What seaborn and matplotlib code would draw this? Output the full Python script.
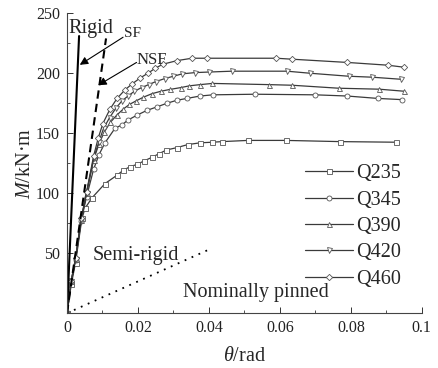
import matplotlib
matplotlib.use("Agg")
import matplotlib.pyplot as plt
import seaborn as sns
import pandas as pd
from matplotlib.ticker import MultipleLocator, FixedLocator

# ---------------- data ----------------
q235_theta = [0, 0.0012, 0.0024, 0.0042, 0.0051, 0.0070, 0.0107, 0.0141, 0.0158, 0.0177, 0.0197, 0.0218,
              0.0240, 0.0260, 0.0280, 0.0310, 0.0340, 0.0375, 0.0410, 0.0437, 0.0510, 0.0617, 0.0770, 0.0927]
q235_m = [0, 24, 42, 79, 87.5, 96, 108, 115, 119, 122, 124, 127,
          130, 133, 136, 138, 140.5, 142, 142.5, 143, 144, 144, 143, 142.5]

q345_theta = [0, 0.0012, 0.0024, 0.0040, 0.0055, 0.0075, 0.0090, 0.0107, 0.0135, 0.0155, 0.0172, 0.0197,
              0.0225, 0.0254, 0.0282, 0.0310, 0.0338, 0.0375, 0.0411, 0.0530, 0.0700, 0.0790, 0.0876, 0.0944]
q345_m = [0, 26, 44, 77, 97, 120, 132, 142, 154, 157, 161, 165,
          169, 172, 175, 177.5, 179, 181, 182, 182.5, 182, 181, 179, 178]

q390_theta = [0, 0.0012, 0.0024, 0.0040, 0.0055, 0.0075, 0.0090, 0.0105, 0.0122, 0.0140, 0.0158, 0.0176,
              0.0195, 0.0215, 0.0240, 0.0265, 0.0290, 0.0320, 0.0345, 0.0375, 0.0410, 0.0570, 0.0634,
              0.0766, 0.0880, 0.0950]
q390_m = [0, 27, 45, 78, 100, 128, 141, 151, 159, 165, 170, 174,
          177, 180, 183, 185, 186.5, 188, 189.5, 190.5, 191.5, 190.5, 190, 187.5, 186.7, 185]

q420_theta = [0, 0.0012, 0.0024, 0.0040, 0.0055, 0.0075, 0.0090, 0.0103, 0.0120, 0.0138, 0.0155, 0.0172,
              0.0190, 0.0210, 0.0230, 0.0250, 0.0275, 0.0300, 0.0325, 0.0360, 0.0400, 0.0465, 0.0620,
              0.0685, 0.0794, 0.0860, 0.0940]
q420_m = [0, 27, 45, 78, 100, 129, 143, 154, 163, 171, 177, 181,
          185, 188, 190.5, 193, 195.5, 197.5, 199.5, 200.5, 201, 201.7, 201.7, 200, 197.5, 196.7, 195]

q460_theta = [0, 0.0012, 0.0024, 0.0040, 0.0055, 0.0075, 0.0088, 0.0101, 0.0121, 0.0141, 0.0163, 0.0183,
              0.0206, 0.0228, 0.0248, 0.0270, 0.0310, 0.0352, 0.0394, 0.0590, 0.0634, 0.0790, 0.0904, 0.0950]
q460_m = [0, 27, 46, 79, 101, 131, 146, 158, 170, 179, 186, 191,
          196, 200, 204, 207.5, 210.5, 212.5, 212.5, 212.5, 211.7, 209, 206.7, 205]

series_names = ["Q235", "Q345", "Q390", "Q420", "Q460"]
series_markers = ["s", "o", "^", "v", "D"]

rigid_theta = [0, 0.0034]
rigid_m = [0, 231]
sf_theta = [0, 0.0110]
sf_m = [0, 229]
semi_theta = [0, 0.0400]
semi_m = [0, 53]

# ---------------- style ----------------
sns.set_theme(style="ticks")
plt.rcParams["font.family"] = ["Liberation Serif", "DejaVu Serif"]
plt.rcParams["mathtext.fontset"] = "custom"
plt.rcParams["mathtext.rm"] = "Liberation Serif"
plt.rcParams["mathtext.it"] = "Liberation Serif:italic"

frames = []
for name, th, mm in zip(series_names,
                        [q235_theta, q345_theta, q390_theta, q420_theta, q460_theta],
                        [q235_m, q345_m, q390_m, q420_m, q460_m]):
    frames.append(pd.DataFrame({"theta": th, "M": mm, "steel": name}))
df = pd.concat(frames, ignore_index=True)

fig = plt.figure(figsize=(4.38, 3.68), dpi=100)
ax = fig.add_axes([0.153, 0.149, 0.810, 0.815])

line_col = "#3a3a3a"
for name, mk in zip(series_names, series_markers):
    sub = df[df["steel"] == name]
    ms = 3.6 if mk != "D" else 3.2
    sns.lineplot(data=sub, x="theta", y="M", ax=ax, sort=False, estimator=None,
                 color=line_col, linewidth=0.9, marker=mk, markersize=ms,
                 markerfacecolor="white", markeredgecolor="#555555", markeredgewidth=0.6,
                 label=name)

# reference lines
sns.lineplot(x=rigid_theta, y=rigid_m, ax=ax, color="black", linewidth=1.5, legend=False)
sns.lineplot(x=sf_theta, y=sf_m, ax=ax, color="black", linewidth=1.5, linestyle=(0, (4, 2.5)), legend=False)
sns.lineplot(x=semi_theta, y=semi_m, ax=ax, color="black", linewidth=1.3, linestyle=(0, (1, 3.2)), legend=False)

# annotations
ax.text(0.0004, 237, "Rigid", fontsize=14.5, va="center", ha="left")
ax.text(0.0162, 233, "SF", fontsize=11, va="center", ha="left")
ax.text(0.0197, 211, "NSF", fontsize=12, va="center", ha="left")
ax.annotate("", xy=(0.0036, 207), xytext=(0.0158, 230),
            arrowprops=dict(arrowstyle="-|>", color="black", lw=0.8, mutation_scale=12, shrinkA=0, shrinkB=0))
ax.annotate("", xy=(0.0088, 190), xytext=(0.0196, 209),
            arrowprops=dict(arrowstyle="-|>", color="black", lw=0.8, mutation_scale=12, shrinkA=0, shrinkB=0))
ax.text(0.0073, 48, "Semi-rigid", fontsize=14.5, va="center", ha="left")
ax.text(0.0327, 17.5, "Nominally pinned", fontsize=14.5, va="center", ha="left")

# axes
ax.set_xlim(0, 0.1)
ax.set_ylim(0, 250)
ax.set_xticks([0, 0.02, 0.04, 0.06, 0.08, 0.1])
ax.set_xticklabels(["0", "0.02", "0.04", "0.06", "0.08", "0.1"])
ax.set_yticks([50, 100, 150, 200, 250])
ax.set_yticklabels(["50", "100", "150", "200", "250"])
ax.xaxis.set_minor_locator(MultipleLocator(0.01))
ax.yaxis.set_minor_locator(FixedLocator([25, 75, 125, 175, 225]))
ax.tick_params(axis="both", which="major", direction="in", length=4, width=0.7, labelsize=11.5,
               colors="#333333", labelcolor="#222222", pad=5)
ax.tick_params(axis="both", which="minor", direction="in", length=2.5, width=0.6, colors="#333333")
for s in ["top", "right"]:
    ax.spines[s].set_visible(False)
for s in ["left", "bottom"]:
    ax.spines[s].set_linewidth(0.8)
    ax.spines[s].set_color("#444444")

ax.set_xlabel(r"$\theta$/rad", fontsize=14.5, labelpad=8)
ax.set_ylabel(r"$M$/kN·m", fontsize=14.5, labelpad=1)

leg = ax.legend(loc="upper left", bbox_to_anchor=(0.672, 0.497), frameon=False,
                fontsize=14.5, handlelength=2.35, handletextpad=0.15, labelspacing=0.36,
                borderpad=0, borderaxespad=0)

fig.savefig("out.png", dpi=100)
